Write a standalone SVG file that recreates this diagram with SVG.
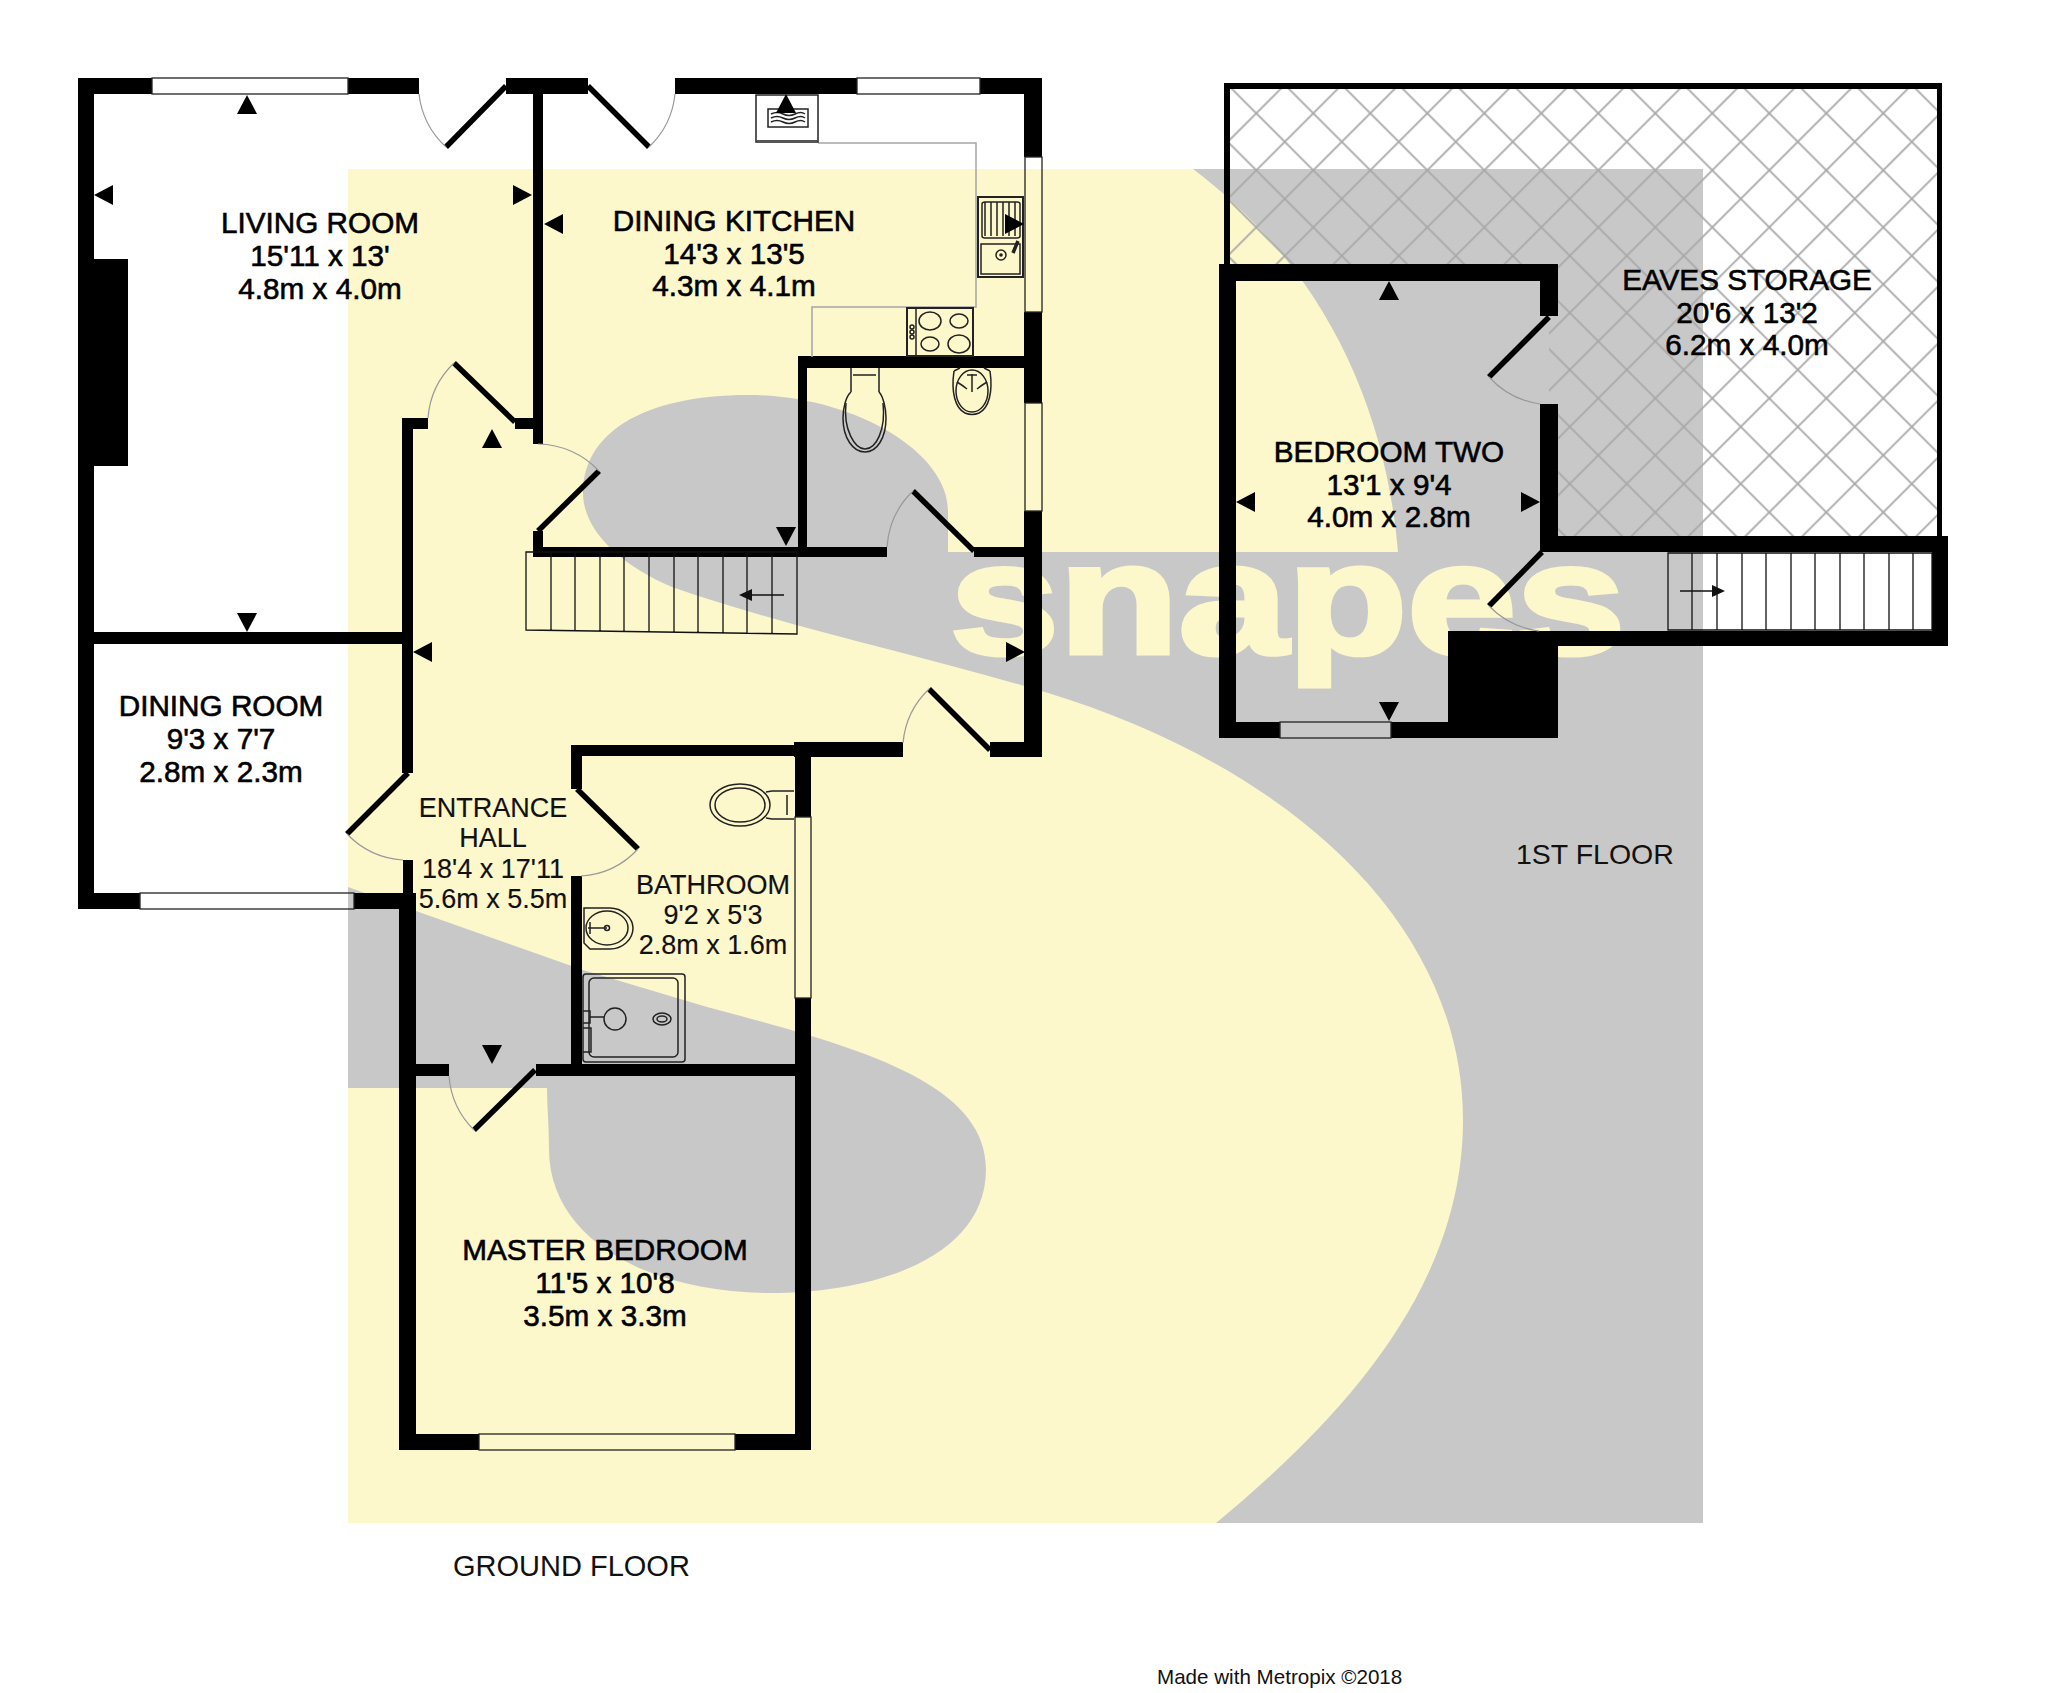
<svg xmlns="http://www.w3.org/2000/svg" width="2048" height="1693" viewBox="0 0 2048 1693">
<style>
.wm{fill:#C8C8C8}
.wmt{fill:#FDF7CC;stroke:#FDF7CC;stroke-width:5;font:bold 158px "Liberation Sans",Arial,sans-serif}
.w{fill:#000}
.win{fill:none;stroke:#222;stroke-width:1.3}
.leaf{stroke:#000;stroke-width:5.5;fill:none}
.arc{stroke:#999;stroke-width:1.2;fill:none}
.fx{fill:none;stroke:#222;stroke-width:1.5}
.fxw{fill:#fff;stroke:#222;stroke-width:1.5}
.ct{fill:none;stroke:#A5A5A5;stroke-width:1.5}
.st{fill:none;stroke:#111;stroke-width:1.3}
text.l{font-family:"Liberation Sans",Arial,sans-serif;fill:#000;stroke:#000;stroke-width:.6;text-anchor:middle;font-size:29.7px}
text.m{font-size:27px;stroke-width:.15;fill:#111}
text.f{font-family:"Liberation Sans",Arial,sans-serif;fill:#111}
</style>
<defs>
<polygon id="tu" points="-10,9 10,9 0,-10"/>
<polygon id="td" points="-10,-9 10,-9 0,10"/>
<polygon id="tl" points="9,-10 9,10 -10,0"/>
<polygon id="tr" points="-9,-10 -9,10 10,0"/>
<pattern id="hatch" patternUnits="userSpaceOnUse" width="57" height="57" x="1598.3" y="113.3">
<path d="M0 0L57 57M57 0L0 57" stroke="#A8A8A8" stroke-width="1.8" fill="none"/>
</pattern>
</defs>
<rect width="2048" height="1693" fill="#fff"/>
<g id="watermark">
<rect x="348" y="169" width="1355" height="1354" fill="#FDF7CC"/>
<path class="wm" d="M1193 169H1703V1523H1216C1340 1420 1463 1290 1463 1120C1463 930 1300 770 1045 692C920 655 790 628 672 587C620 565 583 530 583 493C583 435 640 395 749 395C850 395 948 450 948 511V552H1398C1385 400 1320 265 1193 169Z"/>
<path class="wm" d="M348 887L583 970L707 1007C850 1045 986 1080 986 1169C986 1260 870 1293 771 1293C650 1293 549 1240 549 1149C549 1125 547 1105 547 1088H348Z"/>
<text class="wmt" transform="translate(950 653) scale(1.24 1)">snapes</text>
</g>
<path id="eaves-hatch" fill="url(#hatch)" d="M1230 89H1937V536H1558V404H1549V316H1558V264H1230Z"/>
<g id="walls">
<!-- ground floor outer and inner walls -->
<rect class="w" x="78" y="78" width="74" height="16"/>
<rect class="w" x="348" y="78" width="71" height="16"/>
<rect class="w" x="506" y="78" width="82" height="16"/>
<rect class="w" x="675" y="78" width="182" height="16"/>
<rect class="w" x="980" y="78" width="62" height="16"/>
<rect class="w" x="78" y="78" width="16" height="831"/>
<rect class="w" x="94" y="259" width="34" height="207"/>
<rect class="w" x="94" y="632" width="308" height="12"/>
<rect class="w" x="78" y="893" width="62" height="16"/>
<rect class="w" x="354" y="893" width="62" height="16"/>
<rect class="w" x="533" y="86" width="10" height="358"/>
<rect class="w" x="515" y="418" width="28" height="11"/>
<rect class="w" x="402" y="418" width="11" height="355"/>
<rect class="w" x="402" y="418" width="26" height="11"/>
<rect class="w" x="403" y="860" width="10" height="40"/>
<rect class="w" x="399" y="893" width="17" height="557"/>
<rect class="w" x="1024" y="78" width="18" height="79"/>
<rect class="w" x="1024" y="312" width="18" height="91"/>
<rect class="w" x="1024" y="511" width="18" height="246"/>
<rect class="w" x="798" y="356" width="226" height="12"/>
<rect class="w" x="798" y="356" width="9" height="201"/>
<rect class="w" x="533" y="547" width="354" height="10"/>
<rect class="w" x="533" y="531" width="10" height="26"/>
<rect class="w" x="974" y="547" width="50" height="10"/>
<rect class="w" x="571" y="745" width="224" height="11"/>
<rect class="w" x="794" y="742" width="109" height="15"/>
<rect class="w" x="990" y="742" width="52" height="15"/>
<rect class="w" x="571" y="745" width="11" height="44"/>
<rect class="w" x="571" y="876" width="11" height="189"/>
<rect class="w" x="795" y="742" width="16" height="75"/>
<rect class="w" x="795" y="998" width="16" height="452"/>
<rect class="w" x="416" y="1064" width="33" height="12"/>
<rect class="w" x="536" y="1064" width="259" height="12"/>
<rect class="w" x="399" y="1434" width="80" height="16"/>
<rect class="w" x="735" y="1434" width="76" height="16"/>
<!-- first floor -->
<rect class="w" x="1224" y="83" width="718" height="6"/>
<rect class="w" x="1224" y="83" width="6" height="181"/>
<rect class="w" x="1937" y="83" width="5" height="453"/>
<rect class="w" x="1219" y="264" width="339" height="17"/>
<rect class="w" x="1219" y="264" width="17" height="474"/>
<rect class="w" x="1540" y="264" width="18" height="52"/>
<rect class="w" x="1540" y="404" width="18" height="148"/>
<rect class="w" x="1540" y="536" width="408" height="16"/>
<rect class="w" x="1932" y="536" width="16" height="110"/>
<rect class="w" x="1448" y="631" width="500" height="15"/>
<rect class="w" x="1448" y="631" width="110" height="107"/>
<rect class="w" x="1219" y="722" width="61" height="16"/>
<rect class="w" x="1391" y="722" width="167" height="16"/>
</g>
<g id="windows">
<rect class="win" x="152" y="78" width="196" height="16"/>
<rect class="win" x="857" y="78" width="123" height="16"/>
<rect class="win" x="1025" y="157" width="17" height="155"/>
<rect class="win" x="1025" y="403" width="17" height="108"/>
<rect class="win" x="140" y="893" width="214" height="16"/>
<rect class="win" x="795" y="817" width="16" height="181"/>
<rect class="win" x="479" y="1434" width="256" height="16"/>
<rect class="win" x="1280" y="722" width="111" height="16"/>
</g>
<g id="doors">
<path class="leaf" d="M506 86L446 147"/><path class="arc" d="M446 147A85 85 0 0 1 419 94"/>
<path class="leaf" d="M588 86L649 147"/><path class="arc" d="M649 147A85 85 0 0 0 675 94"/>
<path class="leaf" d="M515 422L454 363"/><path class="arc" d="M454 363A85 85 0 0 0 428 418"/>
<path class="leaf" d="M538 531L599 471"/><path class="arc" d="M599 471A85 85 0 0 0 538 444"/>
<path class="leaf" d="M974 551L913 491"/><path class="arc" d="M913 491A85 85 0 0 0 887 547"/>
<path class="leaf" d="M990 750L929 689"/><path class="arc" d="M929 689A85 85 0 0 0 903 743"/>
<path class="leaf" d="M408 773L347 834"/><path class="arc" d="M347 834A85 85 0 0 0 403 860"/>
<path class="leaf" d="M577 789L638 849"/><path class="arc" d="M638 849A85 85 0 0 1 581 876"/>
<path class="leaf" d="M535 1070L474 1130"/><path class="arc" d="M474 1130A85 85 0 0 1 449 1076"/>
<path class="leaf" d="M1549 317L1489 377"/><path class="arc" d="M1489 377A85 85 0 0 0 1540 404"/>
<path class="leaf" d="M1542 552L1489 606"/><path class="arc" d="M1489 606A85 85 0 0 0 1539 631"/>
</g>
<g id="stairs">
<path class="st" d="M526 552H797V634L526 630ZM551 552V630M575 552V631M600 552V631M624 552V631M649 552V632M674 552V632M698 552V633M723 552V633M747 552V633M772 552V634"/>
<path d="M784 595H748" stroke="#111" stroke-width="1.3"/><polygon points="739,595 752,589 752,601" fill="#111"/>
<path class="st" d="M1668 553H1932V630H1668ZM1692 553V630M1717 553V630M1742 553V630M1766 553V630M1791 553V630M1815 553V630M1840 553V630M1864 553V630M1889 553V630M1913 553V630"/>
<path d="M1680 591H1716" stroke="#111" stroke-width="1.3"/><polygon points="1725,591 1712,585 1712,597" fill="#111"/>
</g>
<g id="fixtures">
<path class="ct" d="M818 143H976V307H812V357"/>
<rect class="fxw" x="756" y="95" width="62" height="47"/>
<path d="M757 141H817" stroke="#555" stroke-width="2"/>
<rect class="fx" x="768" y="109" width="40" height="18"/>
<path class="fx" d="M771 114q6-3 12 0t12 0t10 0M771 118q6-3 12 0t12 0t10 0M771 122q6-3 12 0t12 0t10 0"/>
<rect x="978" y="197" width="45" height="80" fill="none" stroke="#222" stroke-width="2"/>
<path class="fx" d="M985 202v34M991 202v34M997 202v34M1003 202v34M1009 202v34M1015 202v34M982 204q0-2 3-2h32q3 0 3 2v32q0 2-3 2h-32q-3 0-3-2Z"/>
<rect class="fx" x="981" y="244" width="39" height="30"/>
<circle class="fx" cx="1001" cy="255" r="5"/><circle cx="1001" cy="255" r="1.8" fill="#222"/>
<path d="M1013 253L1018 241" stroke="#222" stroke-width="3.5" fill="none"/>
<rect x="907" y="308" width="66" height="48" fill="none" stroke="#222" stroke-width="2"/>
<path class="fx" d="M916 308V356"/>
<ellipse class="fx" cx="930" cy="321" rx="11" ry="9"/><ellipse class="fx" cx="959" cy="321" rx="9" ry="7"/>
<ellipse class="fx" cx="930" cy="344" rx="9" ry="7"/><ellipse class="fx" cx="959" cy="344" rx="11" ry="9"/>
<circle class="fx" cx="912" cy="327" r="2"/><circle class="fx" cx="912" cy="332" r="2"/><circle class="fx" cx="912" cy="337" r="2"/>
<path class="fx" d="M851 368V392M879 368V392M853 375H876"/>
<path class="fx" d="M851 392C846 396 843 408 843 418C843 438 853 452 865 452C877 452 886 438 886 418C886 408 883 396 879 392"/>
<path class="fx" d="M846 403C843 430 855 449 865 449C876 449 886 430 883 403"/>
<path class="fx" d="M954 371L960 368M990 371L984 368M954 371C951 392 955 408 965 413Q972 416 979 413C989 408 993 392 990 371"/>
<ellipse class="fx" cx="972" cy="391" rx="16" ry="21"/>
<path class="fx" d="M967 375H977M972 374V392M957 382Q962 385 967 389M987 382Q982 385 977 389"/>
<ellipse class="fx" cx="740" cy="805" rx="30" ry="21"/><ellipse class="fx" cx="740" cy="805" rx="25" ry="17"/>
<path class="fx" d="M766 792L772 791H794M766 818L772 819H794M787 795V815"/>
<path class="fx" d="M584 908H610C622 908 633 918 633 928C633 940 622 949 610 949H590L584 943Z"/>
<ellipse class="fx" cx="607" cy="928" rx="21" ry="17"/>
<path class="fx" d="M588 928H607M590 922V934"/>
<circle class="fx" cx="607" cy="928" r="2.5"/>
<rect class="fx" x="583" y="974" width="102" height="88" rx="3"/>
<rect class="fx" x="589" y="978" width="89" height="79" rx="5"/>
<circle class="fx" cx="615" cy="1019" r="11"/>
<ellipse class="fx" cx="662" cy="1019" rx="9" ry="6"/><ellipse class="fx" cx="662" cy="1019" rx="5" ry="3"/>
<path class="fx" d="M583 1011H590V1023H583M590 1017H604M583 1028H591V1052H583"/>
</g>
<g id="markers" fill="#000">
<use href="#tu" x="247" y="105"/><use href="#tu" x="786" y="104"/><use href="#tu" x="492" y="439"/><use href="#tu" x="1389" y="291"/>
<use href="#td" x="247" y="622"/><use href="#td" x="786" y="536"/><use href="#td" x="492" y="1054"/><use href="#td" x="1389" y="711"/>
<use href="#tl" x="104" y="195"/><use href="#tl" x="554" y="224"/><use href="#tl" x="423" y="652"/><use href="#tl" x="1246" y="502"/>
<use href="#tr" x="522" y="195"/><use href="#tr" x="1014" y="224"/><use href="#tr" x="1015" y="652"/><use href="#tr" x="1530" y="502"/>
</g>
<g id="labels">
<text class="l" x="320" y="233">LIVING ROOM</text><text class="l" x="320" y="266">15'11 x 13'</text><text class="l" x="320" y="299">4.8m x 4.0m</text>
<text class="l" x="734" y="231">DINING KITCHEN</text><text class="l" x="734" y="264">14'3 x 13'5</text><text class="l" x="734" y="296">4.3m x 4.1m</text>
<text class="l" x="221" y="716">DINING ROOM</text><text class="l" x="221" y="749">9'3 x 7'7</text><text class="l" x="221" y="782">2.8m x 2.3m</text>
<text class="l m" x="493" y="817">ENTRANCE</text><text class="l m" x="493" y="847">HALL</text><text class="l m" x="493" y="878">18'4 x 17'11</text><text class="l m" x="493" y="908">5.6m x 5.5m</text>
<text class="l m" x="713" y="894">BATHROOM</text><text class="l m" x="713" y="924">9'2 x 5'3</text><text class="l m" x="713" y="954">2.8m x 1.6m</text>
<text class="l" x="605" y="1260">MASTER BEDROOM</text><text class="l" x="605" y="1293">11'5 x 10'8</text><text class="l" x="605" y="1326">3.5m x 3.3m</text>
<text class="l" x="1389" y="462">BEDROOM TWO</text><text class="l" x="1389" y="495">13'1 x 9'4</text><text class="l" x="1389" y="527">4.0m x 2.8m</text>
<text class="l" x="1747" y="290">EAVES STORAGE</text><text class="l" x="1747" y="323">20'6 x 13'2</text><text class="l" x="1747" y="355">6.2m x 4.0m</text>
<text class="f" x="1516" y="864" font-size="28.5">1ST FLOOR</text>
<text class="f" x="453" y="1576" font-size="29">GROUND FLOOR</text>
<text class="f" x="1157" y="1684" font-size="20.6">Made with Metropix ©2018</text>
</g>
</svg>
